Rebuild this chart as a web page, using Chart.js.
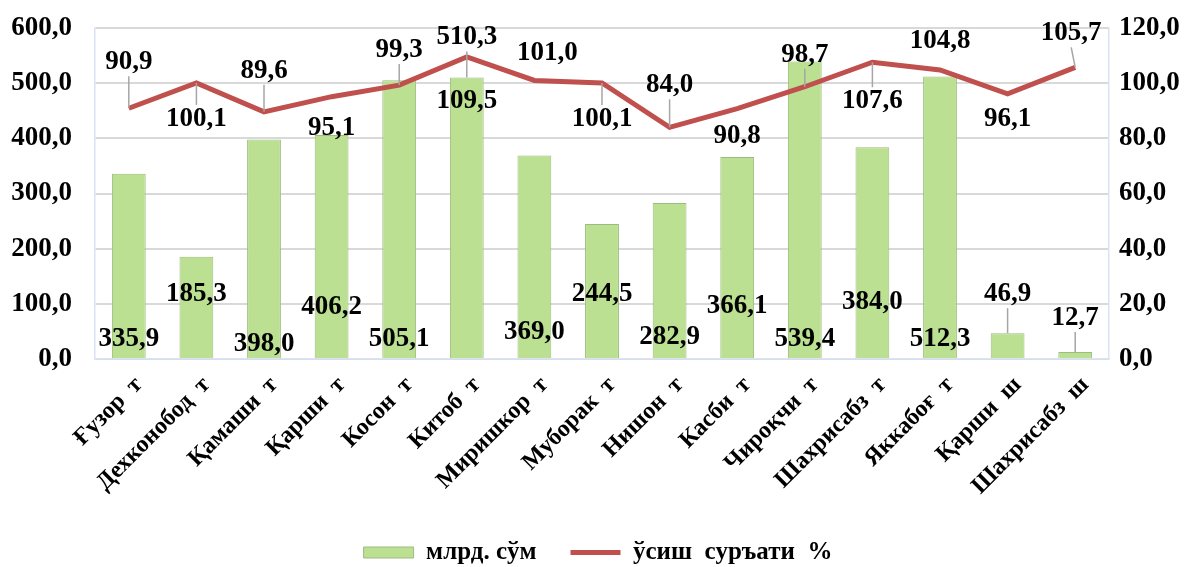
<!DOCTYPE html>
<html>
<head>
<meta charset="utf-8">
<script src="https://cdn.jsdelivr.net/npm/chart.js@4.4.1/dist/chart.umd.min.js"></script>
<style>
    html, body { margin: 0; padding: 0; background: #fff; }
    #wrap { width: 1196px; height: 567px; }
</style>
</head>
<body>
<div id="wrap"><canvas id="chart"></canvas></div>
<script>
const districts = ['Ғузор  т', 'Дехконобод  т', 'Қамаши  т', 'Қарши  т', 'Косон  т', 'Китоб  т', 'Миришкор  т',
    'Муборак  т', 'Нишон  т', 'Касби  т', 'Чироқчи  т', 'Шахрисабз  т', 'Яккабоғ  т', 'Қарши  ш', 'Шахрисабз  ш'];
const volume = [335.9, 185.3, 398.0, 406.2, 505.1, 510.3, 369.0, 244.5, 282.9, 366.1, 539.4, 384.0, 512.3, 46.9, 12.7];
const growth = [90.9, 100.1, 89.6, 95.1, 99.3, 109.5, 101.0, 100.1, 84.0, 90.8, 98.7, 107.6, 104.8, 96.1, 105.7];
const leftTicks = [0, 100, 200, 300, 400, 500, 600];
const rightTicks = [0, 20, 40, 60, 80, 100, 120];
const seriesNames = ['млрд. сўм', 'ўсиш  суръати  %'];

// where Excel had put each label (pixel offsets, tuned by eye)
const barLabelPos = [
    ['base', -19], ['base', -64], ['base', -14], ['base', -51], ['base', -19], ['top', -40, true],
    ['base', -26], ['base', -64], ['base', -21], ['base', -52], ['base', -19], ['base', -56],
    ['base', -19], ['top', -39, true], ['top', -34, true]
];
const lineLabelPos = [
    [0, -46, true], [0, 36, true], [0, -41, true], [0, 31], [0, -35, true], [0, 44],
    [13, -27], [0, 36, true], [0, -42, true], [0, 27], [0, -32, true], [0, 39, true],
    [0, -29], [0, 25], [-4, -34, true]
];

const FONT = "'Liberation Serif', 'Times New Roman', serif";
const fmt = v => v.toFixed(1).replace('.', ',');

const labelPlugin = {
    id: 'valueLabels',
    afterLayout(chart) {
        // push the legend a little lower, like the original
        chart.legend.top += 8;
        chart.legend.bottom += 8;
    },
    afterDatasetsDraw(chart) {
        const ctx = chart.ctx;
        const bars = chart.getDatasetMeta(0).data;
        const pts = chart.getDatasetMeta(1).data;
        ctx.save();
        ctx.font = 'bold 27px ' + FONT;
        ctx.textAlign = 'center';
        ctx.textBaseline = 'middle';
        ctx.strokeStyle = '#a6a6a6';
        ctx.lineWidth = 1.5;

        bars.forEach((bar, i) => {
            const [anchor, dy, leader] = barLabelPos[i];
            const ref = anchor === 'base' ? bar.base : bar.y;
            const y = ref + dy;
            if (leader) {
                ctx.beginPath();
                ctx.moveTo(bar.x, y + 14);
                ctx.lineTo(bar.x, bar.y);
                ctx.stroke();
            }
            ctx.fillStyle = '#000';
            ctx.fillText(fmt(volume[i]), bar.x, y);
        });

        pts.forEach((pt, i) => {
            const [dx, dy, leader] = lineLabelPos[i];
            const x = pt.x + dx, y = pt.y + dy;
            if (leader) {
                ctx.beginPath();
                ctx.moveTo(x, dy < 0 ? y + 14 : y - 14);
                ctx.lineTo(pt.x, pt.y);
                ctx.stroke();
            }
            ctx.fillStyle = '#000';
            ctx.fillText(fmt(growth[i]), x, y);
        });
        ctx.restore();
    }
};

new Chart(document.getElementById('chart'), {
    type: 'bar',
    data: {
        labels: districts,
        datasets: [{
            type: 'bar',
            label: seriesNames[0],
            data: volume,
            yAxisID: 'y',
            backgroundColor: '#bbe091',
            borderColor: '#9dbb7c',
            borderWidth: 1,
            barPercentage: 0.5,
            categoryPercentage: 1,
            order: 2
        }, {
            type: 'line',
            label: seriesNames[1],
            data: growth,
            yAxisID: 'y1',
            borderColor: '#c0504d',
            backgroundColor: '#c0504d',
            borderWidth: 5,
            pointRadius: 0,
            tension: 0,
            order: 1
        }]
    },
    options: {
        responsive: true,
        maintainAspectRatio: false,
        animation: false,
        layout: { padding: { top: 28, left: 0, right: 0, bottom: 0 } },
        plugins: {
            tooltip: { enabled: false },
            legend: {
                position: 'bottom',
                labels: {
                    usePointStyle: true,
                    pointStyleWidth: 50,
                    boxHeight: 11,
                    padding: 34,
                    color: '#000',
                    font: { family: FONT, size: 25, weight: 'bold' },
                    generateLabels: chart => chart.data.datasets.map((ds, i) => ({
                        text: ds.label,
                        datasetIndex: i,
                        fillStyle: ds.backgroundColor,
                        strokeStyle: ds.type === 'line' ? ds.borderColor : '#9dbb7c',
                        lineWidth: ds.type === 'line' ? 5 : 1,
                        pointStyle: ds.type === 'line' ? 'line' : 'rect',
                        fontColor: '#000'
                    }))
                }
            }
        },
        scales: {
            x: {
                grid: { display: false },
                border: { color: '#dae3f3', width: 1.5 },
                ticks: {
                    color: '#000',
                    maxRotation: 45,
                    minRotation: 45,
                    autoSkip: false,
                    padding: 4,
                    labelOffset: 10,
                    font: { family: FONT, size: 24, weight: 'bold' }
                },
                afterFit: s => { s.height = 139; }
            },
            y: {
                position: 'left',
                min: 0,
                max: 600,
                afterBuildTicks: s => { s.ticks = leftTicks.map(v => ({ value: v })); },
                grid: { color: '#d9d9d9', lineWidth: 2, drawTicks: false },
                border: { color: '#dae3f3', width: 1.5 },
                ticks: {
                    color: '#000',
                    padding: 23,
                    callback: v => fmt(v),
                    font: { family: FONT, size: 27, weight: 'bold' }
                },
                afterFit: s => { s.width = 95; s.paddingTop = 0; s.paddingBottom = 0; }
            },
            y1: {
                position: 'right',
                min: 0,
                max: 120,
                afterBuildTicks: s => { s.ticks = rightTicks.map(v => ({ value: v })); },
                grid: { display: false, drawTicks: false },
                border: { color: '#dae3f3', width: 1.5 },
                ticks: {
                    color: '#000',
                    padding: 10,
                    callback: v => fmt(v),
                    font: { family: FONT, size: 27, weight: 'bold' }
                },
                afterFit: s => { s.width = 87; s.paddingTop = 0; s.paddingBottom = 0; }
            }
        }
    },
    plugins: [labelPlugin]
});
</script>
</body>
</html>
